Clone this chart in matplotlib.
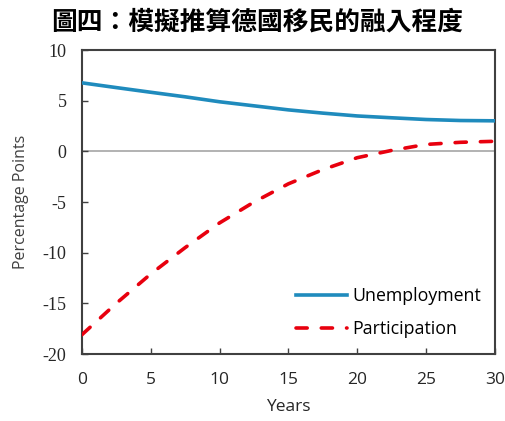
import numpy as np
import matplotlib.pyplot as plt

plt.rcParams['axes.unicode_minus'] = False

lata = [0, 2.5, 5, 7.5, 10, 12.5, 15, 17.5, 20, 22.5, 25, 27.5, 30]
bezrobocie = [6.77, 6.3, 5.84, 5.39, 4.9, 4.5, 4.1, 3.78, 3.5, 3.32, 3.15, 3.05, 3.02]
aktywnosc = [-18.1, -15.0, -12.1, -9.5, -7.06, -5.0, -3.2, -1.8, -0.62, 0.1, 0.69, 0.9, 1.0]

x_ticks = [0, 5, 10, 15, 20, 25, 30]
y_ticks = [-20, -15, -10, -5, 0, 5, 10]
tytul = '圖四：模擬推算德國移民的融入程度'

sans = ['Open Sans', 'DejaVu Sans']
serif = ['Liberation Serif', 'DejaVu Serif']

fig = plt.figure(figsize=(5.05, 4.21), dpi=100)
ax = fig.add_axes([0.162, 0.159, 0.818, 0.722])

ax.axhline(0, color='#a6a6a6', lw=1.2, zorder=1)
ax.plot(lata, bezrobocie, color='#1f8bbd', lw=2.6, label='Unemployment', zorder=3)
ax.plot(lata, aktywnosc, color='#e8000e', lw=2.6, dashes=(3.1, 3.9),
        dash_capstyle='round', label='Participation', zorder=3)

ax.set_xlim(0, 30)
ax.set_ylim(-20, 10)
ax.set_xticks(x_ticks)
ax.set_yticks(y_ticks)
ax.tick_params(axis='both', direction='in', length=4, width=1, color='#404040')
ax.tick_params(axis='x', pad=13)
ax.tick_params(axis='y', pad=11)
for lab in ax.get_xticklabels():
    lab.set_fontfamily(sans)
    lab.set_fontsize(12.5)
    lab.set_color('#262626')
for lab in ax.get_yticklabels():
    lab.set_fontfamily(serif)
    lab.set_fontsize(13)
    lab.set_color('#262626')
for s in ax.spines.values():
    s.set_linewidth(1.5)
    s.set_color('#404040')

ax.set_xlabel('Years', family=sans, fontsize=12.5, color='#262626', labelpad=8)
ax.set_ylabel('Percentage Points', family=sans, fontsize=11.5, color='#404040', labelpad=10)

leg = ax.legend(loc='lower right', frameon=False, prop={'family': sans, 'size': 12.8},
                handlelength=2.85, handletextpad=0.3, labelspacing=0.85,
                bbox_to_anchor=(1.005, 0.0))

fig.text(0.51, 0.948, tytul, ha='center', va='center', fontsize=18.5, fontweight='bold',
         family=['Noto Sans CJK TC', 'DejaVu Sans'])

fig.savefig('out.png', dpi=100)
plt.close(fig)
